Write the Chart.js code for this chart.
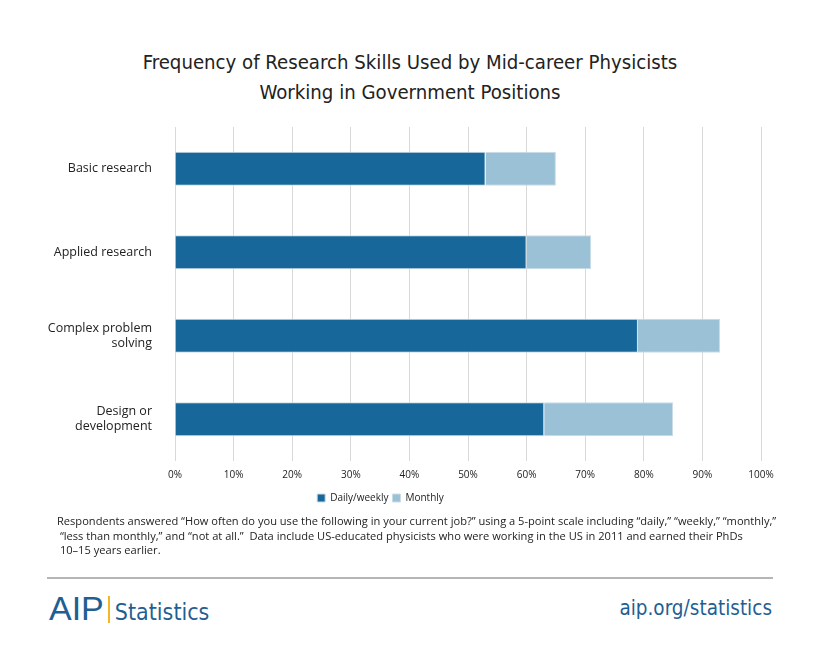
<!DOCTYPE html>
<html>
<head>
<meta charset="utf-8">
<script src="https://cdn.jsdelivr.net/npm/chart.js@4"></script>
<style>
  body { margin: 0; background: #fff; width: 820px; height: 658px; position: relative; overflow: hidden; }
  .cond { font-family: "DejaVu Sans", sans-serif; font-stretch: condensed; }
  #title { position: absolute; left: 0; top: 47px; width: 820px; text-align: center;
    font-size: 20.2px; line-height: 30px; color: #222; }
  #chartbox { position: absolute; left: 0; top: 115px; width: 820px; height: 408px; }
  #note { position: absolute; left: 57px; top: 514px; width: 740px; font-family: "Open Sans", sans-serif;
    font-size: 11.1px; line-height: 14.5px; color: #222; white-space: nowrap; }
  #rule { position: absolute; left: 47px; top: 577px; width: 726px; height: 2px; background: #b5b5b5; }
  #logo { position: absolute; left: 49px; top: 589px; color: #1f5f93; white-space: nowrap; }
  #logo .aip { font-family: "Liberation Sans", sans-serif; font-size: 34px; }
  #logo .bar { display: inline-block; width: 2px; height: 27px; background: #f2b824; margin: 0 5px 0 4px; vertical-align: -3px; }
  #logo .stat { font-size: 23px; }
  #url { position: absolute; right: 48px; top: 596px; font-size: 20.5px; color: #1f5f93; }
</style>
</head>
<body>
<div id="title" class="cond">Frequency of Research Skills Used by Mid-career Physicists<br>Working in Government Positions</div>
<div id="chartbox"><canvas id="myChart"></canvas></div>
<div id="note">Respondents answered “How often do you use the following in your current job?” using a 5-point scale including “daily,” “weekly,” “monthly,”<br>&nbsp;“less than monthly,” and “not at all.”&nbsp; Data include US-educated physicists who were working in the US in 2011 and earned their PhDs<br>&nbsp;10–15 years earlier.</div>
<div id="rule"></div>
<div id="logo"><span class="aip">AIP</span><span class="bar"></span><span class="stat cond">Statistics</span></div>
<div id="url" class="cond">aip.org/statistics</div>
<script>
// data
var skills = [["Basic research"], ["Applied research"], ["Complex problem", "solving"], ["Design or", "development"]];
var dailyWeekly = [53, 60, 79, 63];
var monthly = [12, 11, 14, 22];
var tickValues = [0, 10, 20, 30, 40, 50, 60, 70, 80, 90, 100];

Chart.defaults.font.family = '"Open Sans", sans-serif';
Chart.defaults.color = '#222';

const ctx = document.getElementById('myChart').getContext('2d');
const myChart = new Chart(ctx, {
    type: 'bar',
    data: {
        labels: skills,
        datasets: [
            {
                label: 'Daily/weekly',
                data: dailyWeekly,
                backgroundColor: '#17679a',
                borderColor: '#c9dce8',
                borderWidth: 1,
                categoryPercentage: 0.41,
                barPercentage: 1,
            },
            {
                label: 'Monthly',
                data: monthly,
                backgroundColor: '#9ac1d6',
                borderColor: '#c9dce8',
                borderWidth: 1,
                categoryPercentage: 0.41,
                barPercentage: 1,
            },
        ],
    },
    options: {
        indexAxis: 'y',
        responsive: true,
        maintainAspectRatio: false,
        animation: false,
        layout: { padding: { left: 0, right: 59, top: 12, bottom: 10 } },
        scales: {
            x: {
                stacked: true,
                min: 0,
                max: 100,
                afterBuildTicks: function (scale) {
                    scale.ticks = tickValues.map(v => ({ value: v }));
                },
                grid: { color: '#d9d9d9', drawTicks: false },
                border: { display: false },
                ticks: {
                    padding: 8,
                    font: { size: 10 },
                    callback: function (value) {
                        return value + '%';
                    },
                },
            },
            y: {
                stacked: true,
                grid: { display: false, drawTicks: false },
                border: { display: false },
                afterFit: function (scale) {
                    scale.width = 175;
                    scale.paddingTop = 0;
                    scale.paddingBottom = 0;
                },
                ticks: { padding: 23, font: { size: 12.5 } },
            },
        },
        plugins: {
            legend: {
                position: 'bottom',
                labels: { boxWidth: 8, boxHeight: 8, font: { size: 10 }, padding: 4 },
            },
            tooltip: { enabled: false },
        },
    },
});
</script>
</body>
</html>
